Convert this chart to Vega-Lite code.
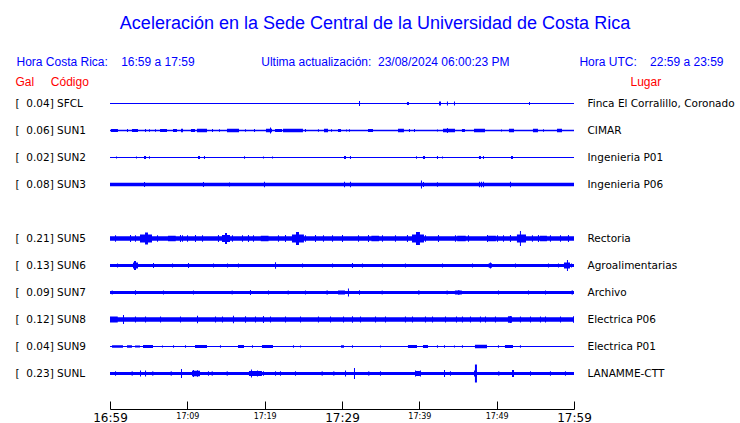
{
"$schema": "https://vega.github.io/schema/vega-lite/v6.json",
"width": 464, "height": 297,
"autosize": {"type": "none"},
"padding": {"left": 110, "top": 90, "right": 166, "bottom": 36},
"background": "white",
"config": {"view": {"stroke": null}},
"title": {
 "text": "Aceleración en la Sede Central de la Universidad de Costa Rica",
 "subtitle": "Hora Costa Rica:\u00a0\u00a0\u00a0\u00a016:59 a 17:59\u00a0\u00a0\u00a0\u00a0\u00a0\u00a0\u00a0\u00a0\u00a0\u00a0\u00a0\u00a0\u00a0\u00a0\u00a0\u00a0\u00a0\u00a0\u00a0\u00a0Ultima actualización:\u00a0\u00a023/08/2024 06:00:23 PM\u00a0\u00a0\u00a0\u00a0\u00a0\u00a0\u00a0\u00a0\u00a0\u00a0\u00a0\u00a0\u00a0\u00a0\u00a0\u00a0\u00a0\u00a0\u00a0\u00a0\u00a0Hora UTC:\u00a0\u00a0\u00a0\u00a022:59 a 23:59\u00a0\u00a0\u00a0\u200b",
 "anchor": "middle", "frame": "group", "dx": 33,
 "font": "Liberation Sans", "fontSize": 18, "fontWeight": "normal", "color": "#0000ff",
 "subtitleFont": "Liberation Sans", "subtitleFontSize": 12, "subtitleColor": "#0000ff",
 "subtitlePadding": 24, "offset": 8
},
"datasets": {
 "estaciones": [
  {"s":"SFCL","ord":1,"gal":"0.04","lugar":"Finca El Corralillo, Coronado"},
  {"s":"SUN1","ord":2,"gal":"0.06","lugar":"CIMAR"},
  {"s":"SUN2","ord":3,"gal":"0.02","lugar":"Ingenieria P01"},
  {"s":"SUN3","ord":4,"gal":"0.08","lugar":"Ingenieria P06"},
  {"s":"SUN4","ord":5,"gal":"","lugar":""},
  {"s":"SUN5","ord":6,"gal":"0.21","lugar":"Rectoria"},
  {"s":"SUN6","ord":7,"gal":"0.13","lugar":"Agroalimentarias"},
  {"s":"SUN7","ord":8,"gal":"0.09","lugar":"Archivo"},
  {"s":"SUN8","ord":9,"gal":"0.12","lugar":"Electrica P06"},
  {"s":"SUN9","ord":10,"gal":"0.04","lugar":"Electrica P01"},
  {"s":"SUNL","ord":11,"gal":"0.23","lugar":"LANAMME-CTT"}
 ],
 "trazas": [
  {"s":"SFCL","t0":0,"t1":60,"amp":1.2},
  {"s":"SFCL","t0":32.2,"t1":32.33,"amp":5},
  {"s":"SFCL","t0":38.4,"t1":38.66,"amp":3},
  {"s":"SFCL","t0":42.54,"t1":42.8,"amp":4},
  {"s":"SFCL","t0":43.57,"t1":43.7,"amp":4},
  {"s":"SFCL","t0":44.48,"t1":44.61,"amp":4},
  {"s":"SFCL","t0":54.18,"t1":54.31,"amp":3},

  {"s":"SUN1","t0":0,"t1":60,"amp":1.4},
  {"s":"SUN1","t0":0.13,"t1":1.03,"amp":3},
  {"s":"SUN1","t0":2.2,"t1":2.33,"amp":3},
  {"s":"SUN1","t0":2.84,"t1":3.62,"amp":3},
  {"s":"SUN1","t0":4.53,"t1":4.66,"amp":3},
  {"s":"SUN1","t0":5.04,"t1":5.17,"amp":2.5},
  {"s":"SUN1","t0":5.82,"t1":5.95,"amp":2.5},
  {"s":"SUN1","t0":6.47,"t1":7.37,"amp":3},
  {"s":"SUN1","t0":8.15,"t1":8.66,"amp":3},
  {"s":"SUN1","t0":9.18,"t1":9.44,"amp":3.5},
  {"s":"SUN1","t0":10.47,"t1":10.99,"amp":3},
  {"s":"SUN1","t0":11.25,"t1":12.54,"amp":3.5},
  {"s":"SUN1","t0":13.19,"t1":13.32,"amp":3},
  {"s":"SUN1","t0":14.09,"t1":14.22,"amp":2.5},
  {"s":"SUN1","t0":15.13,"t1":16.68,"amp":3.5},
  {"s":"SUN1","t0":17.46,"t1":17.59,"amp":2.5},
  {"s":"SUN1","t0":18.62,"t1":18.75,"amp":3},
  {"s":"SUN1","t0":20.17,"t1":20.95,"amp":3.5},
  {"s":"SUN1","t0":20.69,"t1":20.82,"amp":6},
  {"s":"SUN1","t0":21.34,"t1":22.24,"amp":3},
  {"s":"SUN1","t0":22.37,"t1":24.95,"amp":3.5},
  {"s":"SUN1","t0":25.21,"t1":25.34,"amp":3},
  {"s":"SUN1","t0":26.89,"t1":27.02,"amp":2.5},
  {"s":"SUN1","t0":27.67,"t1":28.19,"amp":3.5},
  {"s":"SUN1","t0":28.58,"t1":28.71,"amp":2.5},
  {"s":"SUN1","t0":29.48,"t1":29.87,"amp":3},
  {"s":"SUN1","t0":30.52,"t1":30.65,"amp":2},
  {"s":"SUN1","t0":30.9,"t1":31.03,"amp":2.5},
  {"s":"SUN1","t0":33.36,"t1":34.01,"amp":3},
  {"s":"SUN1","t0":37.24,"t1":38.01,"amp":3.5},
  {"s":"SUN1","t0":38.66,"t1":38.79,"amp":3},
  {"s":"SUN1","t0":39.31,"t1":39.44,"amp":3},
  {"s":"SUN1","t0":42.28,"t1":42.41,"amp":2},
  {"s":"SUN1","t0":43.06,"t1":44.61,"amp":3.5},
  {"s":"SUN1","t0":43.57,"t1":43.7,"amp":5},
  {"s":"SUN1","t0":45.51,"t1":45.9,"amp":3},
  {"s":"SUN1","t0":47.07,"t1":48.49,"amp":3.5},
  {"s":"SUN1","t0":50.56,"t1":50.69,"amp":2},
  {"s":"SUN1","t0":51.59,"t1":52.24,"amp":3.5},
  {"s":"SUN1","t0":54.69,"t1":55.34,"amp":3.5},
  {"s":"SUN1","t0":55.99,"t1":56.12,"amp":2.5},
  {"s":"SUN1","t0":57.8,"t1":58.45,"amp":3.5},

  {"s":"SUN2","t0":0,"t1":60,"amp":1},
  {"s":"SUN2","t0":0.78,"t1":0.91,"amp":2},
  {"s":"SUN2","t0":3.36,"t1":3.49,"amp":2},
  {"s":"SUN2","t0":4.4,"t1":4.66,"amp":3},
  {"s":"SUN2","t0":5.04,"t1":5.17,"amp":2.5},
  {"s":"SUN2","t0":11.38,"t1":11.64,"amp":3},
  {"s":"SUN2","t0":12.15,"t1":12.28,"amp":3},
  {"s":"SUN2","t0":17.33,"t1":17.46,"amp":2.5},
  {"s":"SUN2","t0":19.78,"t1":19.91,"amp":2},
  {"s":"SUN2","t0":20.95,"t1":21.08,"amp":2},
  {"s":"SUN2","t0":30.26,"t1":30.52,"amp":3},
  {"s":"SUN2","t0":31.03,"t1":31.16,"amp":3},
  {"s":"SUN2","t0":39.57,"t1":39.7,"amp":2.5},
  {"s":"SUN2","t0":40.47,"t1":40.73,"amp":3},
  {"s":"SUN2","t0":42.28,"t1":42.41,"amp":3},
  {"s":"SUN2","t0":42.93,"t1":43.06,"amp":2},
  {"s":"SUN2","t0":47.71,"t1":47.97,"amp":3},
  {"s":"SUN2","t0":48.23,"t1":48.36,"amp":3},
  {"s":"SUN2","t0":51.85,"t1":52.11,"amp":3},

  {"s":"SUN3","t0":0,"t1":60,"amp":3.3},
  {"s":"SUN3","t0":4.4,"t1":4.53,"amp":5},
  {"s":"SUN3","t0":12.02,"t1":12.15,"amp":5},
  {"s":"SUN3","t0":15.39,"t1":15.52,"amp":4},
  {"s":"SUN3","t0":19.91,"t1":20.04,"amp":5.5},
  {"s":"SUN3","t0":30.26,"t1":30.39,"amp":5.5},
  {"s":"SUN3","t0":31.03,"t1":31.16,"amp":5.5},
  {"s":"SUN3","t0":40.21,"t1":40.34,"amp":8},
  {"s":"SUN3","t0":40.47,"t1":40.6,"amp":5},
  {"s":"SUN3","t0":42.28,"t1":42.41,"amp":4.5},
  {"s":"SUN3","t0":47.71,"t1":47.84,"amp":5.5},
  {"s":"SUN3","t0":47.97,"t1":48.1,"amp":5.5},
  {"s":"SUN3","t0":48.23,"t1":48.36,"amp":5.5},
  {"s":"SUN3","t0":51.72,"t1":51.85,"amp":5.5},

  {"s":"SUN4","t0":0,"t1":60,"amp":0},

  {"s":"SUN5","t0":0,"t1":60,"amp":4.6},
  {"s":"SUN5","t0":3.88,"t1":5.43,"amp":8},
  {"s":"SUN5","t0":4.53,"t1":4.91,"amp":12},
  {"s":"SUN5","t0":14.48,"t1":15.52,"amp":7},
  {"s":"SUN5","t0":14.87,"t1":15.13,"amp":11},
  {"s":"SUN5","t0":23.53,"t1":25.08,"amp":8},
  {"s":"SUN5","t0":24.05,"t1":24.44,"amp":13},
  {"s":"SUN5","t0":39.05,"t1":40.6,"amp":8},
  {"s":"SUN5","t0":39.57,"t1":40.08,"amp":13},
  {"s":"SUN5","t0":52.62,"t1":53.79,"amp":8},
  {"s":"SUN5","t0":53.01,"t1":53.14,"amp":15},
  {"s":"SUN5","t0":7.5,"t1":8.5,"amp":5.5},
  {"s":"SUN5","t0":19.5,"t1":20.5,"amp":5.5},
  {"s":"SUN5","t0":33.8,"t1":34.8,"amp":5.5},
  {"s":"SUN5","t0":44.9,"t1":46.0,"amp":5.5},
  {"s":"SUN5","t0":48.9,"t1":49.9,"amp":5.5},
  {"s":"SUN5","t0":55.6,"t1":56.5,"amp":5.5},
  {"s":"SUN5","t0":0.65,"t1":0.78,"amp":6.5},
  {"s":"SUN5","t0":2.59,"t1":2.72,"amp":7},
  {"s":"SUN5","t0":3.23,"t1":3.36,"amp":6.5},
  {"s":"SUN5","t0":6.08,"t1":6.21,"amp":6.5},
  {"s":"SUN5","t0":9.05,"t1":9.18,"amp":7},
  {"s":"SUN5","t0":9.31,"t1":9.44,"amp":6.5},
  {"s":"SUN5","t0":9.96,"t1":10.09,"amp":6.5},
  {"s":"SUN5","t0":10.99,"t1":11.12,"amp":7},
  {"s":"SUN5","t0":11.9,"t1":12.03,"amp":6.5},
  {"s":"SUN5","t0":13.96,"t1":14.09,"amp":7},
  {"s":"SUN5","t0":15.77,"t1":15.9,"amp":6.5},
  {"s":"SUN5","t0":17.07,"t1":17.2,"amp":6.5},
  {"s":"SUN5","t0":17.84,"t1":17.97,"amp":7},
  {"s":"SUN5","t0":18.49,"t1":18.62,"amp":6.5},
  {"s":"SUN5","t0":21.72,"t1":21.85,"amp":6.5},
  {"s":"SUN5","t0":22.63,"t1":22.76,"amp":7},
  {"s":"SUN5","t0":25.21,"t1":25.34,"amp":6.5},
  {"s":"SUN5","t0":26.51,"t1":26.64,"amp":7},
  {"s":"SUN5","t0":27.54,"t1":27.67,"amp":6.5},
  {"s":"SUN5","t0":28.71,"t1":28.84,"amp":6.5},
  {"s":"SUN5","t0":30.0,"t1":30.13,"amp":7},
  {"s":"SUN5","t0":32.07,"t1":32.2,"amp":6.5},
  {"s":"SUN5","t0":33.36,"t1":33.49,"amp":7},
  {"s":"SUN5","t0":35.17,"t1":35.3,"amp":6.5},
  {"s":"SUN5","t0":36.85,"t1":36.98,"amp":6.5},
  {"s":"SUN5","t0":38.4,"t1":38.53,"amp":7},
  {"s":"SUN5","t0":40.73,"t1":40.86,"amp":6.5},
  {"s":"SUN5","t0":42.41,"t1":42.54,"amp":7},
  {"s":"SUN5","t0":44.61,"t1":44.74,"amp":6.5},
  {"s":"SUN5","t0":46.29,"t1":46.42,"amp":6.5},
  {"s":"SUN5","t0":48.75,"t1":48.88,"amp":7},
  {"s":"SUN5","t0":50.04,"t1":50.17,"amp":6.5},
  {"s":"SUN5","t0":50.82,"t1":50.95,"amp":6.5},
  {"s":"SUN5","t0":51.72,"t1":51.85,"amp":7},
  {"s":"SUN5","t0":54.56,"t1":54.69,"amp":6.5},
  {"s":"SUN5","t0":55.34,"t1":55.47,"amp":7},
  {"s":"SUN5","t0":56.89,"t1":57.02,"amp":6.5},
  {"s":"SUN5","t0":58.19,"t1":58.32,"amp":6.5},
  {"s":"SUN5","t0":59.22,"t1":59.35,"amp":7},

  {"s":"SUN6","t0":0,"t1":60,"amp":3},
  {"s":"SUN6","t0":2.97,"t1":3.62,"amp":6},
  {"s":"SUN6","t0":3.1,"t1":3.36,"amp":9},
  {"s":"SUN6","t0":5.56,"t1":5.69,"amp":5},
  {"s":"SUN6","t0":10.09,"t1":10.22,"amp":5},
  {"s":"SUN6","t0":21.34,"t1":21.47,"amp":6.5},
  {"s":"SUN6","t0":31.29,"t1":31.42,"amp":5},
  {"s":"SUN6","t0":48.97,"t1":49.39,"amp":4.5},
  {"s":"SUN6","t0":49.13,"t1":49.26,"amp":6},
  {"s":"SUN6","t0":58.7,"t1":59.48,"amp":6},
  {"s":"SUN6","t0":59.09,"t1":59.22,"amp":11},
  {"s":"SUN6","t0":0.91,"t1":1.04,"amp":4},
  {"s":"SUN6","t0":8.02,"t1":8.15,"amp":4},
  {"s":"SUN6","t0":13.32,"t1":13.45,"amp":4},
  {"s":"SUN6","t0":15.13,"t1":15.26,"amp":4},
  {"s":"SUN6","t0":16.55,"t1":16.68,"amp":4},
  {"s":"SUN6","t0":24.83,"t1":24.96,"amp":4},
  {"s":"SUN6","t0":28.71,"t1":28.84,"amp":4},
  {"s":"SUN6","t0":32.58,"t1":32.71,"amp":4},
  {"s":"SUN6","t0":35.17,"t1":35.3,"amp":4},
  {"s":"SUN6","t0":38.14,"t1":38.27,"amp":4},
  {"s":"SUN6","t0":42.93,"t1":43.06,"amp":4},
  {"s":"SUN6","t0":46.81,"t1":46.94,"amp":4},
  {"s":"SUN6","t0":52.37,"t1":52.5,"amp":4},
  {"s":"SUN6","t0":56.64,"t1":56.77,"amp":4},
  {"s":"SUN6","t0":57.93,"t1":58.06,"amp":4},
  {"s":"SUN6","t0":59.61,"t1":59.74,"amp":4},

  {"s":"SUN7","t0":0,"t1":60,"amp":3},
  {"s":"SUN7","t0":30.77,"t1":30.9,"amp":8},
  {"s":"SUN7","t0":32.2,"t1":32.33,"amp":4.5},
  {"s":"SUN7","t0":3.23,"t1":3.36,"amp":4.5},
  {"s":"SUN7","t0":18.1,"t1":18.23,"amp":5},
  {"s":"SUN7","t0":22.98,"t1":23.11,"amp":4},
  {"s":"SUN7","t0":28.01,"t1":28.14,"amp":4.5},
  {"s":"SUN7","t0":39.87,"t1":40.0,"amp":4.5},
  {"s":"SUN7","t0":44.6,"t1":45.5,"amp":4},
  {"s":"SUN7","t0":45.04,"t1":45.17,"amp":5},
  {"s":"SUN7","t0":59.7,"t1":59.83,"amp":4.5},
  {"s":"SUN7","t0":0.22,"t1":0.35,"amp":4},
  {"s":"SUN7","t0":6.85,"t1":6.98,"amp":4},
  {"s":"SUN7","t0":10.73,"t1":10.86,"amp":4},
  {"s":"SUN7","t0":15.73,"t1":15.86,"amp":4},
  {"s":"SUN7","t0":20.43,"t1":20.56,"amp":4},
  {"s":"SUN7","t0":25.21,"t1":25.34,"amp":4},
  {"s":"SUN7","t0":29.48,"t1":30.39,"amp":4},
  {"s":"SUN7","t0":35.13,"t1":35.26,"amp":4},
  {"s":"SUN7","t0":43.53,"t1":43.66,"amp":4},
  {"s":"SUN7","t0":50.17,"t1":50.3,"amp":4},
  {"s":"SUN7","t0":54.05,"t1":54.18,"amp":4},
  {"s":"SUN7","t0":56.25,"t1":56.38,"amp":4},

  {"s":"SUN8","t0":0,"t1":60,"amp":4.6},
  {"s":"SUN8","t0":0,"t1":1.0,"amp":6},
  {"s":"SUN8","t0":1.68,"t1":1.81,"amp":9},
  {"s":"SUN8","t0":11.25,"t1":11.38,"amp":7.5},
  {"s":"SUN8","t0":15.9,"t1":16.03,"amp":7.5},
  {"s":"SUN8","t0":17.46,"t1":17.59,"amp":6.5},
  {"s":"SUN8","t0":19.78,"t1":19.91,"amp":7},
  {"s":"SUN8","t0":31.29,"t1":31.42,"amp":6.5},
  {"s":"SUN8","t0":51.46,"t1":51.98,"amp":6.5},
  {"s":"SUN8","t0":51.72,"t1":51.85,"amp":7},
  {"s":"SUN8","t0":56.25,"t1":56.38,"amp":6},
  {"s":"SUN8","t0":59.87,"t1":60,"amp":6.5},
  {"s":"SUN8","t0":3.23,"t1":3.36,"amp":6},
  {"s":"SUN8","t0":4.53,"t1":4.66,"amp":6},
  {"s":"SUN8","t0":6.47,"t1":6.6,"amp":6},
  {"s":"SUN8","t0":9.05,"t1":9.18,"amp":6},
  {"s":"SUN8","t0":13.58,"t1":13.71,"amp":6},
  {"s":"SUN8","t0":14.48,"t1":14.61,"amp":6},
  {"s":"SUN8","t0":18.75,"t1":18.88,"amp":6},
  {"s":"SUN8","t0":20.69,"t1":20.82,"amp":6},
  {"s":"SUN8","t0":22.63,"t1":22.76,"amp":6},
  {"s":"SUN8","t0":24.57,"t1":24.7,"amp":6},
  {"s":"SUN8","t0":26.89,"t1":27.02,"amp":6},
  {"s":"SUN8","t0":28.45,"t1":28.58,"amp":6},
  {"s":"SUN8","t0":30.13,"t1":30.26,"amp":6},
  {"s":"SUN8","t0":32.33,"t1":32.46,"amp":6},
  {"s":"SUN8","t0":34.27,"t1":34.4,"amp":6},
  {"s":"SUN8","t0":35.56,"t1":35.69,"amp":6},
  {"s":"SUN8","t0":38.14,"t1":38.27,"amp":6},
  {"s":"SUN8","t0":39.05,"t1":39.18,"amp":6},
  {"s":"SUN8","t0":40.73,"t1":40.86,"amp":6},
  {"s":"SUN8","t0":41.64,"t1":41.77,"amp":6},
  {"s":"SUN8","t0":43.32,"t1":43.45,"amp":6},
  {"s":"SUN8","t0":44.74,"t1":44.87,"amp":6},
  {"s":"SUN8","t0":45.51,"t1":45.64,"amp":6},
  {"s":"SUN8","t0":46.55,"t1":46.68,"amp":6},
  {"s":"SUN8","t0":47.84,"t1":47.97,"amp":6},
  {"s":"SUN8","t0":48.49,"t1":48.62,"amp":6},
  {"s":"SUN8","t0":49.78,"t1":49.91,"amp":6},
  {"s":"SUN8","t0":53.01,"t1":53.14,"amp":6},
  {"s":"SUN8","t0":54.31,"t1":54.44,"amp":6},
  {"s":"SUN8","t0":55.6,"t1":55.73,"amp":6},
  {"s":"SUN8","t0":58.19,"t1":58.32,"amp":6},

  {"s":"SUN9","t0":0,"t1":60,"amp":1},
  {"s":"SUN9","t0":0.26,"t1":1.68,"amp":2.5},
  {"s":"SUN9","t0":2.2,"t1":2.84,"amp":2.5},
  {"s":"SUN9","t0":3.23,"t1":3.88,"amp":2},
  {"s":"SUN9","t0":4.27,"t1":5.56,"amp":3},
  {"s":"SUN9","t0":6.72,"t1":6.85,"amp":2},
  {"s":"SUN9","t0":8.15,"t1":8.28,"amp":2.5},
  {"s":"SUN9","t0":9.7,"t1":9.83,"amp":2.5},
  {"s":"SUN9","t0":10.99,"t1":12.54,"amp":3},
  {"s":"SUN9","t0":14.22,"t1":14.35,"amp":2.5},
  {"s":"SUN9","t0":16.55,"t1":17.33,"amp":3},
  {"s":"SUN9","t0":18.36,"t1":18.49,"amp":2.5},
  {"s":"SUN9","t0":19.65,"t1":21.08,"amp":3},
  {"s":"SUN9","t0":23.66,"t1":23.79,"amp":2.5},
  {"s":"SUN9","t0":24.57,"t1":24.7,"amp":2},
  {"s":"SUN9","t0":29.87,"t1":30.26,"amp":2.5},
  {"s":"SUN9","t0":31.29,"t1":31.42,"amp":2.5},
  {"s":"SUN9","t0":34.91,"t1":35.04,"amp":2},
  {"s":"SUN9","t0":38.53,"t1":39.7,"amp":3},
  {"s":"SUN9","t0":40.47,"t1":41.12,"amp":3},
  {"s":"SUN9","t0":42.28,"t1":42.41,"amp":2.5},
  {"s":"SUN9","t0":43.19,"t1":43.32,"amp":2.5},
  {"s":"SUN9","t0":44.48,"t1":44.61,"amp":2},
  {"s":"SUN9","t0":45.51,"t1":45.64,"amp":2.5},
  {"s":"SUN9","t0":47.19,"t1":48.75,"amp":3.5},
  {"s":"SUN9","t0":50.17,"t1":50.3,"amp":2.5},
  {"s":"SUN9","t0":51.07,"t1":52.11,"amp":3},
  {"s":"SUN9","t0":53.01,"t1":53.14,"amp":2.5},

  {"s":"SUNL","t0":0,"t1":60,"amp":3},
  {"s":"SUNL","t0":47.07,"t1":47.45,"amp":6},
  {"s":"SUNL","t0":47.19,"t1":47.45,"amp":18},
  {"s":"SUNL","t0":31.55,"t1":31.68,"amp":11},
  {"s":"SUNL","t0":9.18,"t1":9.31,"amp":9},
  {"s":"SUNL","t0":10.6,"t1":11.64,"amp":5.5},
  {"s":"SUNL","t0":10.73,"t1":10.86,"amp":7},
  {"s":"SUNL","t0":11.25,"t1":11.38,"amp":6.5},
  {"s":"SUNL","t0":17.97,"t1":19.65,"amp":5},
  {"s":"SUNL","t0":18.23,"t1":18.36,"amp":8},
  {"s":"SUNL","t0":19.01,"t1":19.14,"amp":6},
  {"s":"SUNL","t0":43.19,"t1":43.32,"amp":7},
  {"s":"SUNL","t0":51.98,"t1":52.24,"amp":7},
  {"s":"SUNL","t0":3.88,"t1":4.01,"amp":6},
  {"s":"SUNL","t0":4.53,"t1":4.66,"amp":6},
  {"s":"SUNL","t0":30.39,"t1":30.52,"amp":6},
  {"s":"SUNL","t0":39.44,"t1":40.08,"amp":5},
  {"s":"SUNL","t0":39.44,"t1":39.57,"amp":6},
  {"s":"SUNL","t0":40.08,"t1":40.21,"amp":6},
  {"s":"SUNL","t0":0.65,"t1":0.78,"amp":4.5},
  {"s":"SUNL","t0":2.8,"t1":2.93,"amp":4.5},
  {"s":"SUNL","t0":5.47,"t1":5.6,"amp":4.5},
  {"s":"SUNL","t0":7.85,"t1":7.98,"amp":4.5},
  {"s":"SUNL","t0":12.67,"t1":12.8,"amp":4.5},
  {"s":"SUNL","t0":13.15,"t1":13.28,"amp":4.5},
  {"s":"SUNL","t0":15.09,"t1":15.22,"amp":4.5},
  {"s":"SUNL","t0":19.78,"t1":19.91,"amp":4.5},
  {"s":"SUNL","t0":21.34,"t1":21.47,"amp":4.5},
  {"s":"SUNL","t0":21.98,"t1":22.11,"amp":4.5},
  {"s":"SUNL","t0":23.92,"t1":24.05,"amp":4.5},
  {"s":"SUNL","t0":27.37,"t1":27.5,"amp":4.5},
  {"s":"SUNL","t0":28.88,"t1":29.01,"amp":4.5},
  {"s":"SUNL","t0":33.4,"t1":33.53,"amp":4.5},
  {"s":"SUNL","t0":34.91,"t1":35.04,"amp":4.5},
  {"s":"SUNL","t0":43.96,"t1":44.09,"amp":4.5},
  {"s":"SUNL","t0":50.21,"t1":50.34,"amp":4.5},
  {"s":"SUNL","t0":54.31,"t1":54.44,"amp":4.5},
  {"s":"SUNL","t0":56.89,"t1":57.02,"amp":4.5},
  {"s":"SUNL","t0":58.83,"t1":58.96,"amp":4.5}
 ]
},
"data": {"name": "trazas"},
"transform": [
 {"lookup": "s", "from": {"data": {"name": "estaciones"}, "key": "s", "fields": ["ord", "gal", "lugar"]}},
 {"calculate": "datum.gal ? '[\u00a0\u00a0' + datum.gal + ']\u00a0' + datum.s : ''", "as": "izq"}
],
"layer": [
 {
  "mark": {"type": "bar", "color": "#0000ff"},
  "encoding": {
   "x": {"field": "t0", "type": "quantitative",
    "scale": {"domain": [0, 60], "nice": false, "zero": false},
    "axis": {"orient": "bottom", "offset": 22, "title": null, "grid": false,
     "values": [0,5,10,15,20,25,30,35,40,45,50,55,60],
     "domainColor": "#000000", "domainWidth": 1, "tickColor": "#000000", "tickWidth": 1,
     "tickSize": -8, "labelPadding": 11,
     "labelFont": "DejaVu Sans", "labelColor": "#000000",
     "labelFontSize": {"condition": {"test": "datum.value % 30 == 0", "value": 12}, "value": 8},
     "labelExpr": "datum.value % 10 == 0 ? utcFormat(utc(2024, 7, 23, 16, 59 + datum.value), '%H:%M') : ''",
     "labelFlush": false, "labelOverlap": false, "labelBound": false}},
   "x2": {"field": "t1"},
   "y": {"field": "izq", "type": "nominal", "sort": {"field": "ord", "op": "min"},
    "scale": {"paddingInner": 0, "paddingOuter": 0},
    "axis": {"orient": "left", "domain": false, "ticks": false, "tickSize": 0,
     "labelAlign": "left", "labelPadding": 95, "labelFont": "DejaVu Sans", "labelFontSize": 10.5,
     "labelColor": "#000000", "labelLimit": 200,
     "title": "Gal\u00a0\u00a0\u00a0\u00a0\u00a0Código", "titleAngle": 0, "titleAlign": "left",
     "titleBaseline": "alphabetic", "titleX": -95, "titleY": -4.5,
     "titleColor": "#ff0000", "titleFont": "Liberation Sans", "titleFontSize": 12, "titleFontWeight": "normal"}},
   "size": {"field": "amp", "type": "quantitative", "scale": {"domain": [0, 20], "range": [0, 20]}, "legend": null}
  }
 },
 {
  "mark": {"type": "bar", "opacity": 0},
  "encoding": {
   "x": {"field": "t0", "type": "quantitative"},
   "x2": {"field": "t1"},
   "y": {"field": "lugar", "type": "nominal", "sort": {"field": "ord", "op": "min"},
    "scale": {"paddingInner": 0, "paddingOuter": 0},
    "axis": {"orient": "right", "domain": false, "ticks": false, "tickSize": 0,
     "labelAlign": "left", "labelPadding": 13, "labelFont": "DejaVu Sans", "labelFontSize": 10.5,
     "labelColor": "#000000", "labelLimit": 200,
     "title": "Lugar", "titleAngle": 0, "titleAlign": "left",
     "titleBaseline": "alphabetic", "titleX": 56, "titleY": -4.5,
     "titleColor": "#ff0000", "titleFont": "Liberation Sans", "titleFontSize": 12, "titleFontWeight": "normal"}}
  }
 }
],
"resolve": {"scale": {"y": "independent"}, "axis": {"y": "independent"}}
}
